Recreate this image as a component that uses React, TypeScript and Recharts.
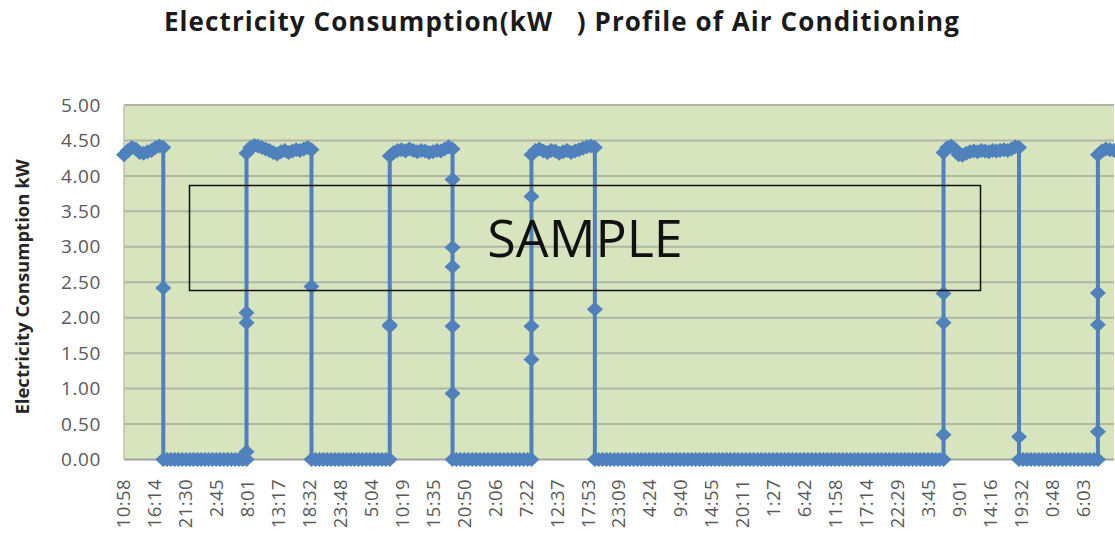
import React from "react";
import { LineChart, Line, XAxis, YAxis, CartesianGrid } from "recharts";

// x position is measured in label intervals (one label every ~5h16m)
const tickLabels = [
  "10:58", "16:14", "21:30", "2:45", "8:01", "13:17", "18:32", "23:48",
  "5:04", "10:19", "15:35", "20:50", "2:06", "7:22", "12:37", "17:53",
  "23:09", "4:24", "9:40", "14:55", "20:11", "1:27", "6:42", "11:58",
  "17:14", "22:29", "3:45", "9:01", "14:16", "19:32", "0:48", "6:03",
];
const yTicks = [0, 0.5, 1, 1.5, 2, 2.5, 3, 3.5, 4, 4.5, 5];

// readings while the unit runs
const on0 = [4.30, 4.36, 4.40, 4.38, 4.33, 4.32, 4.34, 4.36, 4.40, 4.42, 4.40];
const on1 = [4.32, 4.40, 4.43, 4.42, 4.40, 4.38, 4.36, 4.33, 4.31, 4.34, 4.36, 4.33, 4.35, 4.37, 4.36, 4.38, 4.40, 4.37];
const on2 = [4.28, 4.33, 4.36, 4.37, 4.35, 4.38, 4.36, 4.34, 4.36, 4.35, 4.33, 4.34, 4.36, 4.35, 4.38, 4.41, 4.38];
const on3 = [4.30, 4.36, 4.38, 4.35, 4.33, 4.36, 4.35, 4.32, 4.34, 4.36, 4.33, 4.35, 4.37, 4.39, 4.41, 4.42, 4.40];
const on4 = [4.33, 4.40, 4.42, 4.38, 4.30, 4.29, 4.32, 4.34, 4.35, 4.34, 4.36, 4.35, 4.34, 4.36, 4.35, 4.36, 4.37, 4.36, 4.38, 4.41, 4.40];
const on5 = [4.30, 4.35, 4.38, 4.37, 4.36];

// readings while it is off
const off0 = [
  0, 0, 0, 0, 0, 0, 0, 0, 0, 0,
  0, 0, 0, 0, 0, 0, 0, 0, 0, 0,
  0, 0, 0,
];
const off1 = [
  0, 0, 0, 0, 0, 0, 0, 0, 0, 0,
  0, 0, 0, 0, 0, 0, 0, 0, 0, 0,
  0,
];
const off2 = [
  0, 0, 0, 0, 0, 0, 0, 0, 0, 0,
  0, 0, 0, 0, 0, 0, 0, 0, 0, 0,
  0,
];
const off3 = [
  0, 0, 0, 0, 0, 0, 0, 0, 0, 0,
  0, 0, 0, 0, 0, 0, 0, 0, 0, 0,
  0, 0, 0, 0, 0, 0, 0, 0, 0, 0,
  0, 0, 0, 0, 0, 0, 0, 0, 0, 0,
  0, 0, 0, 0, 0, 0, 0, 0, 0, 0,
  0, 0, 0, 0, 0, 0, 0, 0, 0, 0,
  0, 0, 0, 0, 0, 0, 0, 0, 0, 0,
  0, 0, 0, 0, 0, 0, 0, 0, 0, 0,
  0, 0, 0, 0, 0, 0, 0, 0, 0, 0,
  0,
];
const off4 = [
  0, 0, 0, 0, 0, 0, 0, 0, 0, 0,
  0, 0, 0, 0, 0, 0, 0, 0, 0, 0,
  0,
];

// readings caught mid-switch
const drop0 = [2.42];
const rise0 = [0.11, 1.93, 2.07];
const drop1 = [2.44];
const rise1 = [1.88, 1.9];
const drop2 = [3.95, 2.99, 2.72, 1.88, 0.93];
const rise2 = [1.41, 1.88, 3.71];
const drop3 = [2.12];
const rise3 = [0.35, 1.93, 2.34];
const drop4 = [0.32];
const rise4 = [0.39, 1.9, 2.35];

const profile = [
  { from: 0, to: 1.27, kw: on0 },
  { from: 1.27, to: 1.27, kw: drop0 },
  { from: 1.27, to: 3.96, kw: off0 },
  { from: 3.96, to: 3.96, kw: rise0 },
  { from: 3.96, to: 6.06, kw: on1 },
  { from: 6.06, to: 6.06, kw: drop1 },
  { from: 6.06, to: 8.59, kw: off1 },
  { from: 8.59, to: 8.59, kw: rise1 },
  { from: 8.59, to: 10.62, kw: on2 },
  { from: 10.62, to: 10.62, kw: drop2 },
  { from: 10.62, to: 13.17, kw: off2 },
  { from: 13.17, to: 13.17, kw: rise2 },
  { from: 13.17, to: 15.22, kw: on3 },
  { from: 15.22, to: 15.22, kw: drop3 },
  { from: 15.22, to: 26.49, kw: off3 },
  { from: 26.49, to: 26.49, kw: rise3 },
  { from: 26.49, to: 28.93, kw: on4 },
  { from: 28.93, to: 28.93, kw: drop4 },
  { from: 28.93, to: 31.48, kw: off4 },
  { from: 31.48, to: 31.48, kw: rise4 },
  { from: 31.48, to: 32, kw: on5 },
];

const data = profile.flatMap((run) =>
  run.kw.map((kw, i) => ({
    t: run.kw.length > 1 ? run.from + ((run.to - run.from) * i) / (run.kw.length - 1) : run.from,
    kw,
  }))
);

const BLUE = "#4F81BD";
const FONT = "'Open Sans', sans-serif";

const Diamond = (props: any) => {
  const { cx, cy, index } = props;
  if (cx == null || cy == null) return <g key={`d${index}`} />;
  const w = 8;
  const h = 7.5;
  return (
    <path
      key={`d${index}`}
      d={`M${cx},${cy - h}L${cx + w},${cy}L${cx},${cy + h}L${cx - w},${cy}Z`}
      fill={BLUE}
    />
  );
};

const XTick = (props: any) => {
  const { x, payload } = props;
  const y = 479;
  return (
    <text
      x={x}
      y={y}
      transform={`rotate(-90 ${x} ${y})`}
      textAnchor="end"
      dy="0.35em"
      fontSize={18.5}
      letterSpacing={0.4}
      fontFamily={FONT}
      fill="#595959"
    >
      {tickLabels[payload.value]}
    </text>
  );
};

const YTick = (props: any) => {
  const { y, payload } = props;
  return (
    <text
      x={101}
      y={y}
      textAnchor="end"
      dy="0.35em"
      fontSize={19}
      letterSpacing={0.6}
      fontFamily={FONT}
      fill="#595959"
    >
      {payload.value.toFixed(2)}
    </text>
  );
};

export default function App() {
  return (
    <div style={{ position: "absolute", left: 0, top: 0, width: 1115, height: 534, background: "#fff" }}>
      <LineChart width={1115} height={534} data={data} margin={{ top: 105, right: 1, bottom: 0, left: 0 }}>
        <CartesianGrid vertical={false} stroke="#b1b6a3" strokeWidth={2} fill="#D7E4BD" fillOpacity={1} />
        <XAxis
          type="number"
          dataKey="t"
          domain={[0, 32]}
          ticks={tickLabels.map((_, i) => i)}
          interval={0}
          height={74.5}
          tick={<XTick />}
          tickLine={false}
          axisLine={{ stroke: "#a6a6a6", strokeWidth: 1.5 }}
        />
        <YAxis
          domain={[0, 5]}
          ticks={yTicks}
          interval={0}
          width={124}
          tick={<YTick />}
          tickLine={false}
          axisLine={{ stroke: "#bfbfbf", strokeWidth: 1.5 }}
        />
        <Line
          type="linear"
          dataKey="kw"
          stroke={BLUE}
          strokeWidth={4}
          dot={Diamond}
          activeDot={false}
          isAnimationActive={false}
        />
      </LineChart>
      <svg width={1115} height={534} style={{ position: "absolute", left: 0, top: 0, pointerEvents: "none" }}>
        <text
          x={562}
          y={31}
          textAnchor="middle"
          fontSize={26}
          letterSpacing={1.1}
          fontWeight="bold"
          fontFamily={FONT}
          fill="#1a1a1a"
          style={{ whiteSpace: "pre" }}
        >
          {"Electricity Consumption(kW   ) Profile of Air Conditioning"}
        </text>
        <text
          x={29}
          y={287}
          transform="rotate(-90 29 287)"
          textAnchor="middle"
          fontSize={18.5}
          fontWeight="bold"
          fontFamily={FONT}
          fill="#262626"
        >
          Electricity Consumption kW
        </text>
        <rect x={189.5} y={185.5} width={791} height={105} fill="none" stroke="#111" strokeWidth={1.5} />
        <text x={585} y={238} textAnchor="middle" dy="0.36em" fontSize={52} fontFamily={FONT} fill="#111">
          SAMPLE
        </text>
      </svg>
    </div>
  );
}
